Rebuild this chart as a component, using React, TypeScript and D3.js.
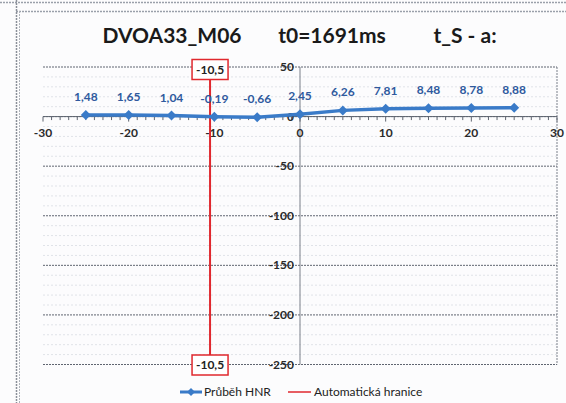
import React from "react";
import * as d3 from "d3";

const xValues = [-25, -20, -15, -10, -5, 0, 5, 10, 15, 20, 25];
const hnrValues = [1.48, 1.65, 1.04, -0.19, -0.66, 2.45, 6.26, 7.81, 8.48, 8.78, 8.88];
const hnrLabels = ["1,48", "1,65", "1,04", "-0,19", "-0,66", "2,45", "6,26", "7,81", "8,48", "8,78", "8,88"];
const boundaryX = -10.5;
const boundaryYs = [50, -250];
const boundaryLabel = "-10,5";
const xTicks = [-30, -20, -10, 0, 10, 20, 30];
const yTicks = [50, 0, -50, -100, -150, -200, -250];
const titleParts = ["DVOA33_M06", "t0=1691ms", "t_S - a:"];
const legendNames = ["Průběh HNR", "Automatická hranice"];

const W = 566;
const H = 403;
const FONT = "Lato, 'Open Sans', sans-serif";
const BLUE = "#3a7bc8";
const LABEL_BLUE = "#2f5a9e";
const RED = "#e0282e";

export default function App() {
  const x = d3.scaleLinear().domain([-30, 30]).range([43, 557]);
  const y = d3.scaleLinear().domain([-250, 50]).range([364.5, 67]);
  const pts = xValues.map((v, i) => [x(v), y(hnrValues[i])] as [number, number]);
  const line = d3.line()(pts) || "";
  const minorY = d3.range(-250, 51, 10).filter((v) => v % 50 !== 0);
  const minorX = d3.range(-30, 31, 1);
  const diamond = (cx: number, cy: number, r = 5) =>
    `M${cx},${cy - r}L${cx + r},${cy}L${cx},${cy + r}L${cx - r},${cy}Z`;
  const y0 = y(0);
  const bx = x(boundaryX);

  return (
    <svg width={W} height={H} style={{ position: "absolute", left: 0, top: 0, background: "#fcfcfd" }} fontFamily={FONT}>
      {/* sheet frame */}
      <line x1={0} x2={W} y1={2.5} y2={2.5} stroke="#9aa0aa" strokeWidth={1.5} strokeDasharray="2,1" />
      <line x1={16} x2={W} y1={11.5} y2={11.5} stroke="#9aa0aa" strokeWidth={1.5} strokeDasharray="2,1" />
      <line x1={16.5} x2={16.5} y1={0} y2={H} stroke="#8a8f99" strokeWidth={1.5} strokeDasharray="2,1" />
      <line x1={19.5} x2={19.5} y1={11} y2={H} stroke="#b0b4bb" strokeWidth={1} strokeDasharray="2,1" />

      {/* title */}
      <text x={172} y={43} fontSize={21} fontWeight="bold" fill="#1a1a1a" textAnchor="middle">{titleParts[0]}</text>
      <text x={332} y={43} fontSize={21} fontWeight="bold" fill="#1a1a1a" textAnchor="middle">{titleParts[1]}</text>
      <text x={465} y={43} fontSize={21} fontWeight="bold" fill="#1a1a1a" textAnchor="middle">{titleParts[2]}</text>

      {/* minor gridlines */}
      {minorY.map((v) => (
        <line key={"mg" + v} x1={x(-30)} x2={x(30)} y1={y(v)} y2={y(v)} stroke="#e0e3e8" strokeWidth={1} strokeDasharray="2,2" />
      ))}
      {/* major gridlines */}
      {yTicks.map((v) => (
        <line key={"g" + v} x1={x(-30)} x2={x(30)} y1={y(v)} y2={y(v)} stroke="#5f6570" strokeWidth={1} strokeDasharray="2,1" />
      ))}
      {/* right border */}
      <line x1={x(30)} x2={x(30)} y1={y(50)} y2={y(-250)} stroke="#7a808a" strokeWidth={1} strokeDasharray="2,1" />
      {/* vertical axis */}
      <line x1={x(0)} x2={x(0)} y1={y(50)} y2={y(-250)} stroke="#7a808a" strokeWidth={1} />
      {/* x axis */}
      <line x1={x(-30)} x2={x(30)} y1={y0} y2={y0} stroke="#5f6570" strokeWidth={1} />
      {minorX.map((v) => (
        <line key={"t" + v} x1={x(v)} x2={x(v)} y1={y0} y2={y0 + (v % 10 === 0 ? 5 : 3.5)} stroke="#5f6570" strokeWidth={1} />
      ))}
      {xTicks.map((v) => (
        <text key={"xl" + v} x={x(v)} y={y0 + 20} fontSize={12} fontWeight="bold" fill="#2a2a2a" textAnchor="middle">{v}</text>
      ))}
      {yTicks.map((v) => (
        <text key={"yl" + v} x={x(0) - 6} y={y(v) + 4} fontSize={12} fontWeight="bold" fill="#2a2a2a" textAnchor="end">{v}</text>
      ))}

      {/* boundary */}
      <line x1={bx} x2={bx} y1={y(boundaryYs[0])} y2={y(boundaryYs[1])} stroke={RED} strokeWidth={2} />
      {boundaryYs.map((v, i) => (
        <g key={"b" + i}>
          <rect x={bx - 18} y={y(v) - 9.5 + (i === 0 ? 2 : 0)} width={36} height={20} fill="#fff" stroke={RED} strokeWidth={1.5} />
          <text x={bx} y={y(v) + 4.5 + (i === 0 ? 2 : 0)} fontSize={12} fontWeight="bold" fill="#222" textAnchor="middle">{boundaryLabel}</text>
        </g>
      ))}

      {/* HNR series */}
      <path d={line} fill="none" stroke={BLUE} strokeWidth={3.5} />
      {pts.map(([px, py], i) => (
        <path key={"m" + i} d={diamond(px, py)} fill={BLUE} />
      ))}
      {pts.map(([px, py], i) => (
        <text key={"dl" + i} x={px} y={py - 14} fontSize={12} fontWeight="bold" fill={LABEL_BLUE} textAnchor="middle">{hnrLabels[i]}</text>
      ))}

      {/* legend */}
      <line x1={180} x2={202} y1={392} y2={392} stroke={BLUE} strokeWidth={3} />
      <path d={diamond(191, 392, 4)} fill={BLUE} />
      <text x={204} y={396} fontSize={12} fill="#222">{legendNames[0]}</text>
      <line x1={288} x2={311} y1={392} y2={392} stroke={RED} strokeWidth={1.5} />
      <text x={314} y={396} fontSize={12} fill="#222">{legendNames[1]}</text>
    </svg>
  );
}
